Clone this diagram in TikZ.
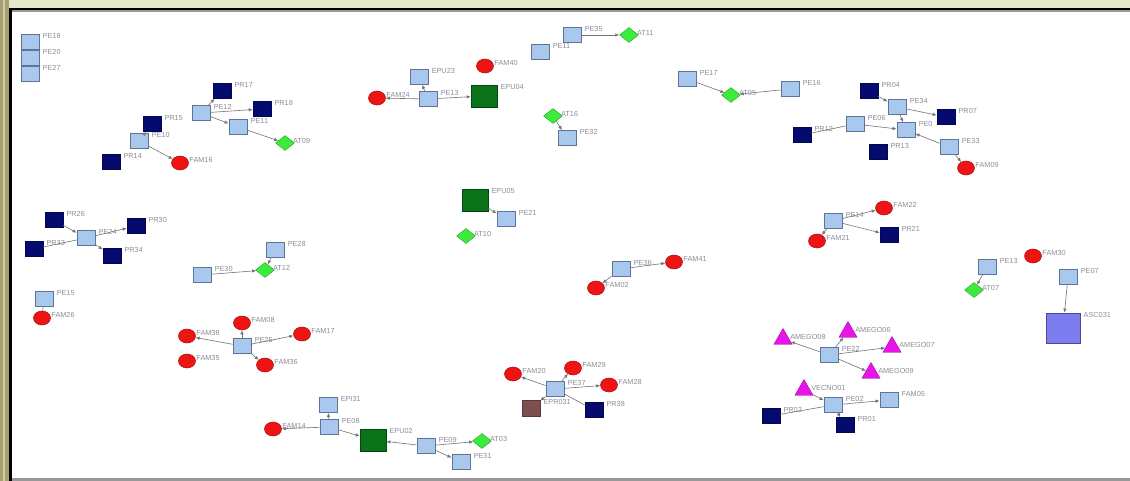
\documentclass[tikz,border=0pt]{standalone}
\usepackage{fontspec}
\setmainfont{Liberation Sans}
\usetikzlibrary{shapes.geometric,arrows.meta}
\definecolor{peblue}{RGB}{168,200,238}
\definecolor{peedge}{RGB}{95,115,150}
\definecolor{prnavy}{RGB}{5,10,110}
\definecolor{famred}{RGB}{238,20,20}
\definecolor{atgreen}{RGB}{60,235,60}
\definecolor{epugreen}{RGB}{10,115,25}
\definecolor{amgpink}{RGB}{230,20,230}
\definecolor{ascblue}{RGB}{125,125,240}
\definecolor{eprbrown}{RGB}{125,80,80}
\definecolor{lblgray}{RGB}{140,140,155}
\definecolor{topband}{RGB}{226,232,200}
\definecolor{sideband}{RGB}{168,160,110}
\tikzset{
  lbl/.style={font=\fontsize{7.3}{8}\selectfont, text=lblgray, inner sep=0.6pt, anchor=west, yshift=-2pt, xshift=2.5pt},
  lb/.style={label={[lbl]north east:#1}},
  pe/.style={rectangle, draw=peedge, fill=peblue, line width=0.9pt, minimum width=18pt, minimum height=15pt, inner sep=0pt},
  pr/.style={rectangle, draw=prnavy!70!black, fill=prnavy, line width=0.6pt, minimum width=18pt, minimum height=15pt, inner sep=0pt},
  fam/.style={ellipse, draw=famred!70!black, fill=famred, line width=0.5pt, minimum width=17pt, minimum height=14pt, inner sep=0pt},
  atn/.style={diamond, draw=atgreen!70!black, fill=atgreen, line width=0.4pt, minimum width=19pt, minimum height=15pt, inner sep=0pt, aspect=1.3},
  epu/.style={rectangle, draw=epugreen!60!black, fill=epugreen, line width=0.6pt, minimum width=26pt, minimum height=22pt, inner sep=0pt},
  amg/.style={regular polygon, regular polygon sides=3, draw=amgpink!70!black, fill=amgpink, line width=0.4pt, minimum size=21pt, inner sep=0pt},
  asc/.style={rectangle, draw=ascblue!60!black, fill=ascblue, line width=0.8pt, minimum width=34pt, minimum height=30pt, inner sep=0pt},
  epr/.style={rectangle, draw=eprbrown!70!black, fill=eprbrown, line width=0.6pt, minimum width=18pt, minimum height=16pt, inner sep=0pt},
  ed/.style={draw=black!55, line width=0.6pt, -{Latex[length=4pt,width=3.5pt]}},
  ln/.style={draw=black!55, line width=0.6pt},
}
\begin{document}
\begin{tikzpicture}[x=1pt,y=-1pt]
\useasboundingbox (0,0) rectangle (1130,481);
% window frame
\fill[white] (0,0) rectangle (1130,481);
\fill[topband] (0,0) rectangle (1130,8);
\fill[sideband] (0,0) rectangle (9,481);
\fill[sideband!55!white] (3,0) rectangle (5,481);
\fill[black] (9,8) rectangle (1130,10.5);
\fill[black] (9,8) rectangle (11.5,481);
\fill[black!40] (11.5,10.5) rectangle (1130,12);
\fill[black!40] (11.5,478) rectangle (1130,481);

% isolated stack
\node[pe,lb=PE18] (pe18) at (30,42) {};
\node[pe,lb=PE20] (pe20) at (30,58) {};
\node[pe,lb=PE27] (pe27) at (30,74) {};

% group around PE12 / PE10
\node[pr,lb=PR17] (pr17) at (222,91) {};
\node[pe,lb=PE12] (pe12) at (201,113) {};
\node[pr,lb=PR18] (pr18) at (262,109) {};
\node[pe,lb=PE11] (pe11a) at (238,127) {};
\node[atn,lb=AT09] (at09) at (285,143) {};
\node[pr,lb=PR15] (pr15) at (152,124) {};
\node[pe,lb=PE10] (pe10) at (139,141) {};
\node[pr,lb=PR14] (pr14) at (111,162) {};
\node[fam,lb=FAM16] (fam16) at (180,163) {};
\draw[ed] (pe12) -- (pr17);
\draw[ed] (pe12) -- (pr18);
\draw[ed] (pe12) -- (pe11a);
\draw[ed] (pe11a) -- (at09);
\draw[ed] (pe10) -- (pr15);
\draw[ed] (pe10) -- (fam16);

% group around PE13 / EPU04
\node[fam,lb=FAM24] (fam24) at (377,98) {};
\node[pe,lb=PE13] (pe13a) at (428,99) {};
\node[pe,lb=EPU23] (epu23) at (419,77) {};
\node[epu,lb=EPU04] (epu04) at (484,96) {};
\node[fam,lb=FAM40] (fam40) at (485,66) {};
\node[pe,lb=PE11] (pe11b) at (540,52) {};
\node[pe,lb=PE35] (pe35) at (572,35) {};
\node[atn,lb=AT11] (at11) at (629,35) {};
\node[atn,lb=AT16] (at16) at (553,116) {};
\node[pe,lb=PE32] (pe32) at (567,138) {};
\draw[ed] (pe13a) -- (fam24);
\draw[ed] (pe13a) -- (epu23);
\draw[ed] (pe13a) -- (epu04);
\draw[ed] (pe35) -- (at11);
\draw[ed] (at16) -- (pe32);

% group around AT05
\node[pe,lb=PE17] (pe17) at (687,79) {};
\node[atn,lb=AT05] (at05) at (731,95) {};
\node[pe,lb=PE16] (pe16) at (790,89) {};
\draw[ed] (pe17) -- (at05);
\draw[ed] (pe16) -- (at05);

% group around PE34 / PE0
\node[pr,lb=PR04] (pr04) at (869,91) {};
\node[pe,lb=PE34] (pe34) at (897,107) {};
\node[pr,lb=PR07] (pr07) at (946,117) {};
\node[pe,lb=PE06] (pe06) at (855,124) {};
\node[pe,lb=PE0] (pe0) at (906,130) {};
\node[pr,lb=PR12] (pr12) at (802,135) {};
\node[pr,lb=PR13] (pr13) at (878,152) {};
\node[pe,lb=PE33] (pe33) at (949,147) {};
\node[fam,lb=FAM09] (fam09) at (966,168) {};
\draw[ed] (pr04) -- (pe34);
\draw[ed] (pe34) -- (pr07);
\draw[ed] (pe34) -- (pe0);
\draw[ed] (pe06) -- (pe0);
\draw[ed] (pe33) -- (pe0);
\draw[ed] (pe33) -- (fam09);
\draw[ln] (pr12) -- (pe06);

% group around PE24
\node[pr,lb=PR26] (pr26) at (54,220) {};
\node[pe,lb=PE24] (pe24) at (86,238) {};
\node[pr,lb=PR30] (pr30) at (136,226) {};
\node[pr,lb=PR33] (pr33) at (34,249) {};
\node[pr,lb=PR34] (pr34) at (112,256) {};
\draw[ed] (pr26) -- (pe24);
\draw[ed] (pe24) -- (pr30);
\draw[ed] (pe24) -- (pr34);
\draw[ln] (pr33) -- (pe24);

\node[pe,lb=PE15] (pe15) at (44,299) {};
\node[fam,lb=FAM26] (fam26) at (42,318) {};
\draw[ln] (pe15) -- (fam26);

% group around AT12
\node[pe,lb=PE28] (pe28) at (275,250) {};
\node[atn,lb=AT12] (at12) at (265,270) {};
\node[pe,lb=PE30] (pe30) at (202,275) {};
\draw[ed] (pe28) -- (at12);
\draw[ed] (pe30) -- (at12);

% group around PE21
\node[epu,lb=EPU05] (epu05) at (475,200) {};
\node[pe,lb=PE21] (pe21) at (506,219) {};
\node[atn,lb=AT10] (at10) at (466,236) {};
\draw[ed] (epu05) -- (pe21);

% group around PE36
\node[pe,lb=PE36] (pe36) at (621,269) {};
\node[fam,lb=FAM41] (fam41) at (674,262) {};
\node[fam,lb=FAM02] (fam02) at (596,288) {};
\draw[ed] (pe36) -- (fam41);
\draw[ed] (pe36) -- (fam02);

% group around PE14
\node[pe,lb=PE14] (pe14) at (833,221) {};
\node[fam,lb=FAM22] (fam22) at (884,208) {};
\node[fam,lb=FAM21] (fam21) at (817,241) {};
\node[pr,lb=PR21] (pr21) at (889,235) {};
\draw[ed] (pe14) -- (fam22);
\draw[ed] (pe14) -- (fam21);
\draw[ed] (pe14) -- (pr21);

% right-hand groups
\node[pe,lb=PE13] (pe13b) at (987,267) {};
\node[atn,lb=AT07] (at07) at (974,290) {};
\node[fam,lb=FAM30] (fam30) at (1033,256) {};
\node[pe,lb=PE07] (pe07) at (1068,277) {};
\node[asc,lb=ASC031] (asc031) at (1063,328) {};
\draw[ed] (pe13b) -- (at07);
\draw[ed] (pe07) -- (asc031);

% group around PE25
\node[fam,lb=FAM38] (fam38) at (187,336) {};
\node[fam,lb=FAM08] (fam08) at (242,323) {};
\node[fam,lb=FAM17] (fam17) at (302,334) {};
\node[fam,lb=FAM35] (fam35) at (187,361) {};
\node[pe,lb=PE25] (pe25) at (242,346) {};
\node[fam,lb=FAM36] (fam36) at (265,365) {};
\draw[ed] (pe25) -- (fam38);
\draw[ed] (pe25) -- (fam08);
\draw[ed] (pe25) -- (fam17);
\draw[ed] (pe25) -- (fam36);

% group around PE08 / EPU02
\node[pe,lb=EPI31] (epi31) at (328,405) {};
\node[pe,lb=PE08] (pe08) at (329,427) {};
\node[fam,lb=FAM14] (fam14) at (273,429) {};
\node[epu,lb=EPU02] (epu02) at (373,440) {};
\node[pe,lb=PE09] (pe09) at (426,446) {};
\node[atn,lb=AT03] (at03) at (482,441) {};
\node[pe,lb=PE31] (pe31) at (461,462) {};
\draw[ed] (pe08) -- (epi31);
\draw[ed] (pe08) -- (fam14);
\draw[ed] (pe08) -- (epu02);
\draw[ed] (pe09) -- (epu02);
\draw[ed] (pe09) -- (at03);
\draw[ed] (pe09) -- (pe31);

% group around PE37
\node[fam,lb=FAM20] (fam20) at (513,374) {};
\node[fam,lb=FAM29] (fam29) at (573,368) {};
\node[fam,lb=FAM28] (fam28) at (609,385) {};
\node[pe,lb=PE37] (pe37) at (555,389) {};
\node[epr,lb=EPR031] (epr031) at (531,408) {};
\node[pr,lb=PR38] (pr38) at (594,410) {};
\draw[ed] (pe37) -- (fam20);
\draw[ed] (pe37) -- (fam29);
\draw[ed] (pe37) -- (fam28);
\draw[ed] (pe37) -- (epr031);
\draw[ln] (pr38) -- (pe37);

% group around PE22 / PE02
\node[amg,lb=AMEGO08] (amg08) at (783,339) {};
\node[amg,lb=AMEGO06] (amg06) at (848,332) {};
\node[amg,lb=AMEGO07] (amg07) at (892,347) {};
\node[amg,lb=AMEGO09] (amg09) at (871,373) {};
\node[pe,lb=PE22] (pe22) at (829,355) {};
\node[amg,lb=VECNO01] (vec01) at (804,390) {};
\node[pe,lb=PE02] (pe02) at (833,405) {};
\node[pe,lb=FAM05] (fam05) at (889,400) {};
\node[pr,lb=PR02] (pr02) at (771,416) {};
\node[pr,lb=PR01] (pr01) at (845,425) {};
\draw[ed] (pe22) -- (amg08);
\draw[ed] (pe22) -- (amg06);
\draw[ed] (pe22) -- (amg07);
\draw[ed] (pe22) -- (amg09);
\draw[ed] (vec01) -- (pe02);
\draw[ed] (pe02) -- (fam05);
\draw[ed] (pe02) -- (pr01);
\draw[ln] (pr02) -- (pe02);
\end{tikzpicture}
\end{document}
